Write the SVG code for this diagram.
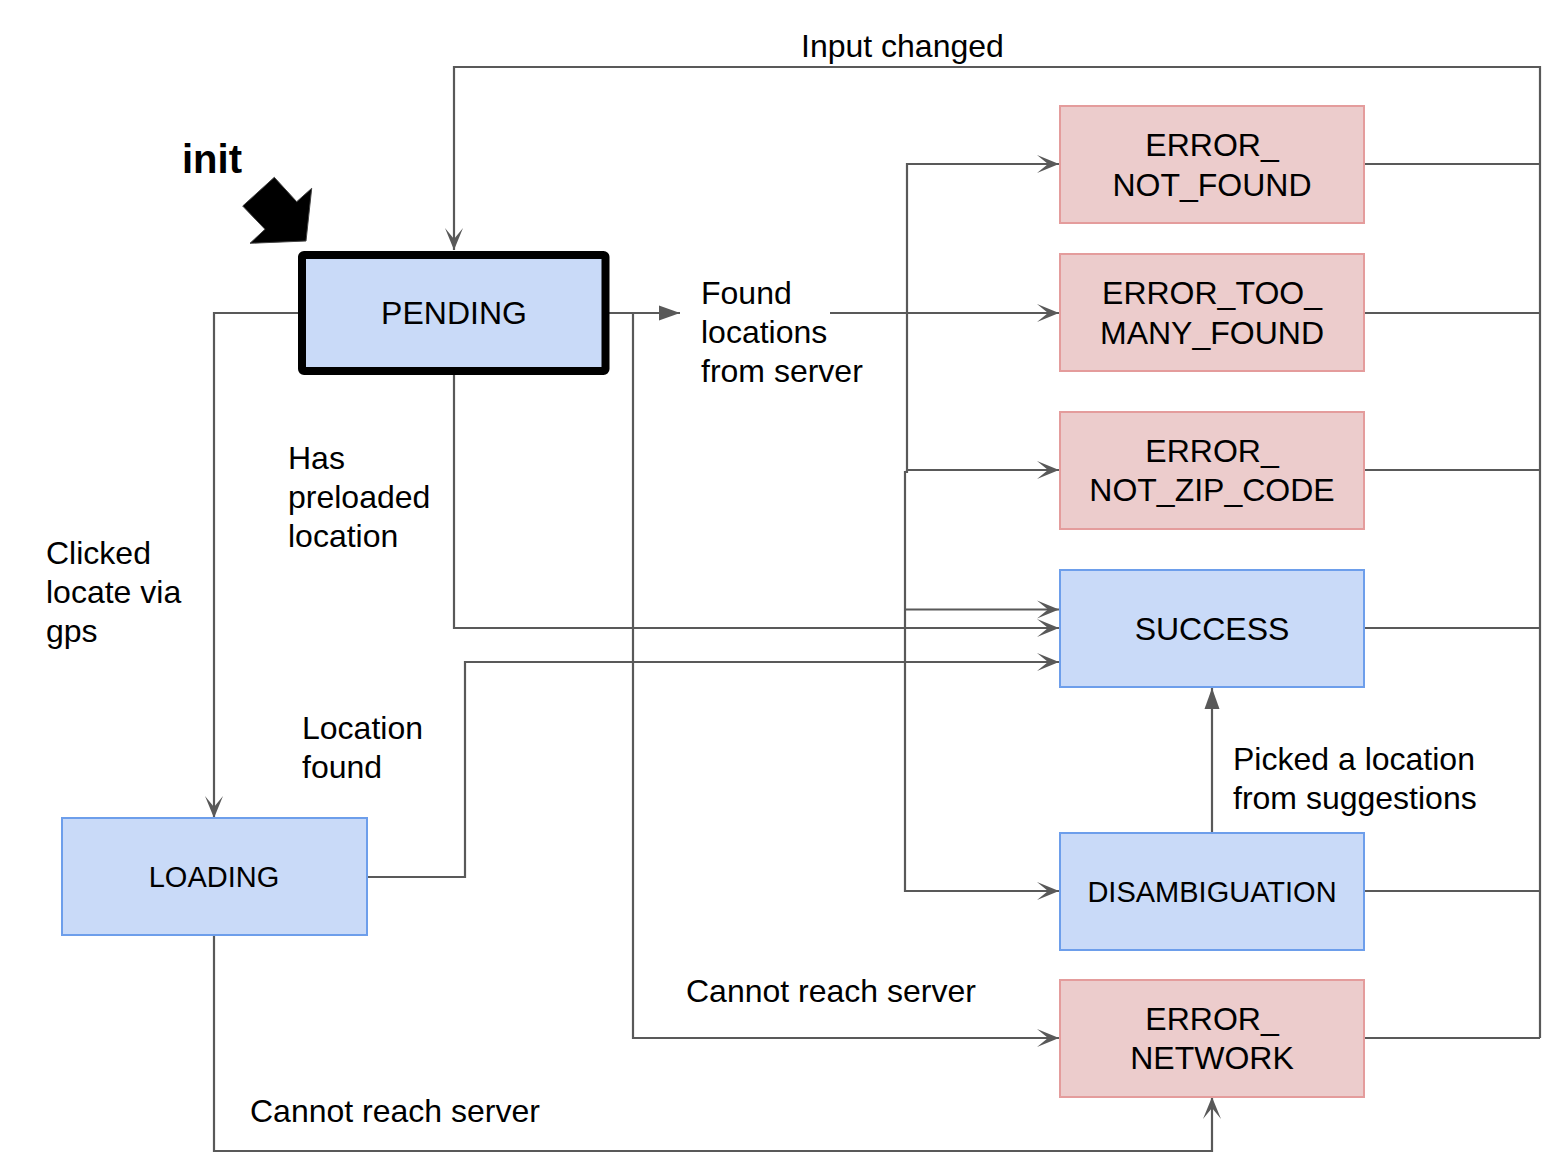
<svg xmlns="http://www.w3.org/2000/svg" width="1562" height="1168" viewBox="0 0 1562 1168">
<style>
  .lbl { font-family: "Liberation Sans", Arial, sans-serif; font-size: 32px; fill: #000; }
  .blue { fill: #c9daf8; stroke: #6d9eeb; stroke-width: 2; }
  .red { fill: #eccccc; stroke: #e49c9c; stroke-width: 2; }
  .edge { fill: none; stroke: #595959; stroke-width: 2.2; }
  .mid { text-anchor: middle; }
</style>
<defs>
  <marker id="barb" markerUnits="userSpaceOnUse" viewBox="-24 -10 26 20" refX="0" refY="0" markerWidth="26" markerHeight="20" orient="auto">
    <path d="M0,0 L-22,-9 L-11,0 L-22,9 Z" fill="#595959"/>
  </marker>
  <marker id="tri" markerUnits="userSpaceOnUse" viewBox="-24 -10 26 20" refX="0" refY="0" markerWidth="26" markerHeight="20" orient="auto">
    <path d="M0,0 L-21,-7.5 L-21,7.5 Z" fill="#595959"/>
  </marker>
</defs>
<rect width="1562" height="1168" fill="#ffffff"/>

<g id="connectors">
  <path class="edge" d="M1540,1038 V67 H454 V250" marker-end="url(#barb)"/>
  <path class="edge" d="M1364,164 H1540"/>
  <path class="edge" d="M1364,313 H1540"/>
  <path class="edge" d="M1364,470 H1540"/>
  <path class="edge" d="M1364,628 H1540"/>
  <path class="edge" d="M1364,891 H1540"/>
  <path class="edge" d="M1364,1038 H1540"/>
  <path class="edge" d="M302,313 H214 V818" marker-end="url(#barb)"/>
  <path class="edge" d="M606,313 H680" marker-end="url(#tri)"/>
  <path class="edge" d="M830,313 H1059" marker-end="url(#barb)"/>
  <path class="edge" d="M907,313 V164 H1059" marker-end="url(#barb)"/>
  <path class="edge" d="M907,313 V470 H1059" marker-end="url(#barb)"/>
  <path class="edge" d="M907,470 V472 H905 V891 H1059" marker-end="url(#barb)"/>
  <path class="edge" d="M905,609.5 H1059" marker-end="url(#barb)"/>
  <path class="edge" d="M633,313 V1038 H1059" marker-end="url(#barb)"/>
  <path class="edge" d="M454,371 V628 H1059" marker-end="url(#barb)"/>
  <path class="edge" d="M367,877 H465 V662 H1059" marker-end="url(#barb)"/>
  <path class="edge" d="M214,935 V1151 H1212 V1097" marker-end="url(#barb)"/>
  <path class="edge" d="M1212,833 V688" marker-end="url(#tri)"/>
</g>

<g id="init">
  <polygon points="242.7,206 274.3,177.3 296.7,201.7 311.7,188.3 306,241 250,243.3 265,229.3" fill="#000" stroke="#444" stroke-width="1"/>
  <text x="182" y="173" font-family="Liberation Sans, Arial, sans-serif" font-size="40" font-weight="bold">init</text>
</g>

<g id="pending">
  <rect x="302" y="255" width="303.5" height="116" rx="2" fill="#c9daf8" stroke="#000" stroke-width="8"/>
  <text class="lbl mid" x="454" y="324">PENDING</text>
</g>

<g id="error_not_found">
  <rect class="red" x="1060" y="106" width="304" height="117"/>
  <text class="lbl mid" x="1212" y="156">ERROR_</text>
  <text class="lbl mid" x="1212" y="196">NOT_FOUND</text>
</g>

<g id="error_too_many_found">
  <rect class="red" x="1060" y="254" width="304" height="117"/>
  <text class="lbl mid" x="1212" y="304">ERROR_TOO_</text>
  <text class="lbl mid" x="1212" y="344">MANY_FOUND</text>
</g>

<g id="error_not_zip_code">
  <rect class="red" x="1060" y="412" width="304" height="117"/>
  <text class="lbl mid" x="1212" y="462">ERROR_</text>
  <text class="lbl mid" x="1212" y="501">NOT_ZIP_CODE</text>
</g>

<g id="success">
  <rect class="blue" x="1060" y="570" width="304" height="117"/>
  <text class="lbl mid" x="1212" y="640">SUCCESS</text>
</g>

<g id="disambiguation">
  <rect class="blue" x="1060" y="833" width="304" height="117"/>
  <text class="lbl mid" x="1212" y="902" style="font-size:29px">DISAMBIGUATION</text>
</g>

<g id="error_network">
  <rect class="red" x="1060" y="980" width="304" height="117"/>
  <text class="lbl mid" x="1212" y="1030">ERROR_</text>
  <text class="lbl mid" x="1212" y="1069">NETWORK</text>
</g>

<g id="loading">
  <rect class="blue" x="62" y="818" width="305" height="117"/>
  <text class="lbl mid" x="214" y="887" style="font-size:29px">LOADING</text>
</g>

<g id="labels">
  <text class="lbl" x="801" y="57">Input changed</text>
  <text class="lbl" x="701" y="304">Found</text>
  <text class="lbl" x="701" y="343">locations</text>
  <text class="lbl" x="701" y="382">from server</text>
  <text class="lbl" x="288" y="469">Has</text>
  <text class="lbl" x="288" y="508">preloaded</text>
  <text class="lbl" x="288" y="547">location</text>
  <text class="lbl" x="46" y="564">Clicked</text>
  <text class="lbl" x="46" y="603">locate via</text>
  <text class="lbl" x="46" y="642">gps</text>
  <text class="lbl" x="302" y="739">Location</text>
  <text class="lbl" x="302" y="778">found</text>
  <text class="lbl" x="1233" y="770">Picked a location</text>
  <text class="lbl" x="1233" y="809">from suggestions</text>
  <text class="lbl" x="686" y="1002">Cannot reach server</text>
  <text class="lbl" x="250" y="1122">Cannot reach server</text>
</g>
</svg>
